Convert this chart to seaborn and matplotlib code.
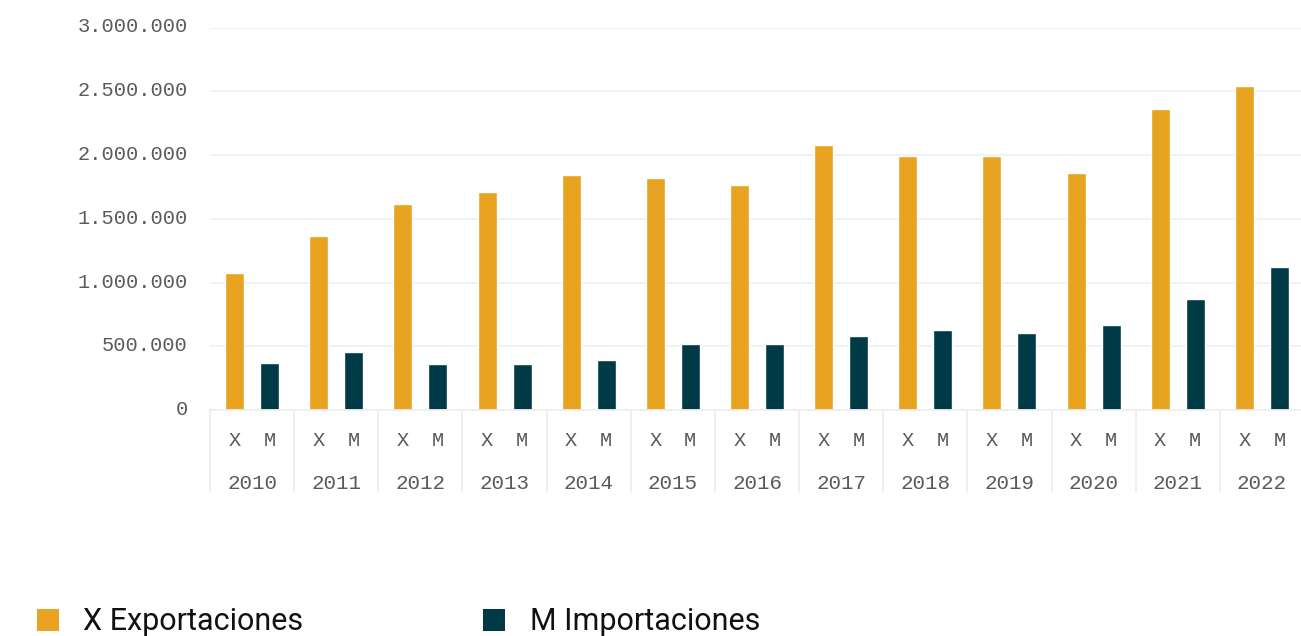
import matplotlib
matplotlib.use("Agg")
import matplotlib.pyplot as plt
import matplotlib.transforms as mtransforms
from matplotlib.patches import Patch
from matplotlib.ticker import FuncFormatter
import seaborn as sns
import pandas as pd

years = ["2010", "2011", "2012", "2013", "2014", "2015", "2016",
         "2017", "2018", "2019", "2020", "2021", "2022"]
exportaciones = [1073000, 1363000, 1613000, 1707000, 1840000, 1817000, 1762000,
                 2075000, 1989000, 1989000, 1856000, 2357000, 2545000]
importaciones = [368000, 454000, 362000, 362000, 392000, 517000, 517000,
                 580000, 627000, 603000, 666000, 869000, 1120000]
series_codes = ["X", "M"]
series_names = ["X Exportaciones", "M Importaciones"]
colors = ["#E8A320", "#003A46"]

df = pd.DataFrame({
    "year": years * 2,
    "type": ["X"] * len(years) + ["M"] * len(years),
    "value": exportaciones + importaciones,
})

sns.set_theme(style="white")
mono = "Liberation Mono"
grey = "#5a5a5a"

fig = plt.figure(figsize=(13.01, 6.36), dpi=100)
ax = fig.add_axes([210 / 1301, 226 / 636, 1094 / 1301, 382.5 / 636])

sns.barplot(data=df, x="year", y="value", hue="type", hue_order=series_codes,
            palette=colors, width=0.832, gap=0.457, saturation=1,
            legend=False, ax=ax, errorbar=None)

ax.set_xlim(-0.5, len(years) - 0.5)
ax.set_ylim(0, 3000000)
ax.set_yticks([0, 500000, 1000000, 1500000, 2000000, 2500000, 3000000])
ax.yaxis.set_major_formatter(FuncFormatter(lambda v, p: f"{int(v):,}".replace(",", ".")))
ax.grid(axis="y", color="#f1f1f1", linewidth=1.3)
ax.grid(axis="x", visible=False)
ax.set_axisbelow(True)
for s in ax.spines.values():
    s.set_visible(False)
ax.tick_params(axis="y", length=0, pad=16, labelsize=14.7, labelcolor=grey)
shift = mtransforms.ScaledTranslation(0, 2.5 / 100, fig.dpi_scale_trans)
for lab in ax.get_yticklabels():
    lab.set_fontfamily(mono)
    lab.set_transform(lab.get_transform() + shift)
ax.set_xticks([])
ax.set_xlabel("")
ax.set_ylabel("")

trans = mtransforms.blended_transform_factory(ax.transData, ax.transAxes)
ax.plot([-0.5, len(years) - 0.5], [0, 0], transform=trans, color="#eeeeee",
        linewidth=1.3, clip_on=False)
off = 0.208
for i, y in enumerate(years):
    ax.text(i - off, -0.081, "X", transform=trans, ha="center", va="center",
            fontsize=14.7, color=grey, family=mono)
    ax.text(i + off, -0.081, "M", transform=trans, ha="center", va="center",
            fontsize=14.7, color=grey, family=mono)
    ax.text(i, -0.191, y, transform=trans, ha="center", va="center",
            fontsize=15, color=grey, family=mono)
for i in range(len(years) + 1):
    ax.plot([i - 0.5, i - 0.5], [0, -0.214], transform=trans, color="#eeeeee",
            linewidth=1.3, clip_on=False)

handles = [Patch(facecolor=c, edgecolor="none", label=n) for c, n in zip(colors, series_names)]
leg = fig.legend(handles=handles, loc="center left", bbox_to_anchor=(37 / 1301, 14 / 636),
                 ncol=2, frameon=False, borderpad=0, borderaxespad=0,
                 handlelength=0.72, handleheight=0.72, handletextpad=0.8,
                 columnspacing=5.88,
                 prop={"family": "Roboto", "size": 22})
for t in leg.get_texts():
    t.set_color("#111111")

fig.savefig("out.png", dpi=100)
